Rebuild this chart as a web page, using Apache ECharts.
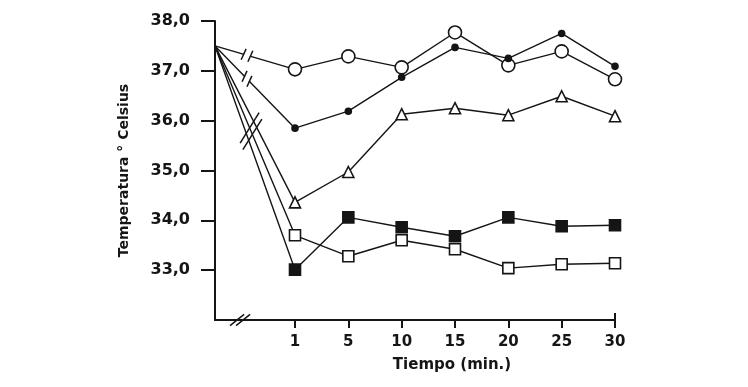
<!DOCTYPE html>
<html>
<head>
<meta charset="utf-8">
<script src="https://cdn.jsdelivr.net/npm/echarts@6/dist/echarts.min.js"></script>
<style>html,body{margin:0;padding:0;background:#fff;}#c{width:748px;height:387px;}</style>
</head>
<body>
<div id="c"></div>
<script>
// Time categories (min) shown as evenly spaced positions
const timeLabels = ['1', '5', '10', '15', '20', '25', '30'];
// Starting temperature (at the y-axis, before the break)
const startTemp = 37.5;
const startPos = -1.5;
// Series values (°C) at each time category
const openCircles   = [37.03, 37.29, 37.07, 37.77, 37.11, 37.39, 36.83];
const filledCircles = [35.85, 36.19, 36.87, 37.47, 37.25, 37.75, 37.09];
const triangles     = [34.36, 34.97, 36.13, 36.25, 36.11, 36.49, 36.09];
const filledSquares = [33.01, 34.06, 33.86, 33.68, 34.06, 33.88, 33.90];
const openSquares   = [33.70, 33.28, 33.60, 33.42, 33.04, 33.12, 33.14];
const yTicks = [33, 34, 35, 36, 37, 38];

const FONT = 'DejaVu Sans';
const INK = '#151515';

function mk(vals) {
  const d = [{ value: [startPos, startTemp], symbol: 'none' }];
  vals.forEach((v, i) => d.push([i, v]));
  return d;
}
function series(vals, symbol, size, fill) {
  return {
    type: 'line', data: mk(vals), symbol: symbol, symbolSize: size,
    showAllSymbol: true, animation: false, z: 3,
    lineStyle: { color: INK, width: 1.4 },
    itemStyle: { color: fill, borderColor: INK, borderWidth: 1.6 }
  };
}

const chart = echarts.init(document.getElementById('c'));
chart.setOption({
  backgroundColor: '#fff',
  animation: false,
  grid: { left: 215, right: 133, top: 21, bottom: 67 },
  xAxis: {
    type: 'value', min: startPos, max: timeLabels.length - 1,
    name: 'Tiempo (min.)', nameLocation: 'middle', nameGap: 38,
    nameTextStyle: { fontFamily: FONT, fontSize: 15, fontWeight: 'bold', color: INK, padding: [0, 0, 0, 74] },
    axisLine: { show: true, onZero: false, lineStyle: { color: INK, width: 2 } },
    axisTick: { show: true, length: 8, customValues: timeLabels.map((_, i) => i), lineStyle: { color: INK, width: 2 } },
    axisLabel: { customValues: timeLabels.map((_, i) => i), margin: 15, fontFamily: FONT, fontSize: 15, fontWeight: 'bold', color: INK,
      formatter: v => timeLabels[Math.round(v)] },
    splitLine: { show: false }
  },
  yAxis: {
    type: 'value', min: 32, max: 38, interval: 1,
    name: 'Temperatura ° Celsius', nameLocation: 'middle', nameGap: 84, nameRotate: 90,
    nameTextStyle: { fontFamily: FONT, fontSize: 14, fontWeight: 'bold', color: INK },
    axisLine: { show: true, onZero: false, lineStyle: { color: INK, width: 2 } },
    axisTick: { show: true, length: 14, customValues: yTicks, lineStyle: { color: INK, width: 2 } },
    axisLabel: { customValues: yTicks, margin: 25, fontFamily: FONT, fontSize: 16, fontWeight: 'bold', color: INK,
      formatter: v => v.toFixed(1).replace('.', ',') },
    splitLine: { show: false }
  },
  series: [
    series(openCircles, 'circle', 13, '#fff'),
    series(filledCircles, 'circle', 6, INK),
    series(triangles, 'triangle', 11, '#fff'),
    series(filledSquares, 'rect', 11, INK),
    series(openSquares, 'rect', 11, '#fff')
  ]
});

// Break marks, positioned from the chart's own scales
function px(x, y) { return chart.convertToPixel({ gridIndex: 0 }, [x, y]); }
const g = [];
function slashPair(cx, cy, dx, dy, half, gap) {
  for (const s of [-1, 1]) {
    const ox = s * gap[0], oy = s * gap[1];
    g.push({ type: 'line', shape: { x1: cx + ox - dx * half, y1: cy + oy - dy * half, x2: cx + ox + dx * half, y2: cy + oy + dy * half },
      style: { stroke: INK, lineWidth: 1.5 }, z: 10 });
  }
}
function lineBreak(vals, t, half) {
  const a = px(startPos, startTemp), b = px(0, vals[0]);
  const cx = a[0] + (b[0] - a[0]) * t, cy = a[1] + (b[1] - a[1]) * t;
  const len = Math.hypot(b[0] - a[0], b[1] - a[1]);
  const ux = (b[0] - a[0]) / len, uy = (b[1] - a[1]) / len;
  let dx = 0.45, dy = -1; const n = Math.hypot(dx, dy); dx /= n; dy /= n;
  g.push({ type: 'rect', shape: { x: cx - 3, y: cy - 3, width: 6, height: 6 }, style: { fill: '#fff' }, z: 8,
    rotation: -Math.atan2(uy, ux), originX: cx, originY: cy });
  slashPair(cx, cy, dx, dy, half, [ux * 3.5, uy * 3.5]);
}
lineBreak(openCircles, 0.4, 6);
lineBreak(filledCircles, 0.4, 6);
// one long break across the three steep lines
(function () {
  const a = px(startPos, startTemp), b = px(0, openSquares[0]);
  const t = 0.45;
  const cx = a[0] + (b[0] - a[0]) * t, cy = a[1] + (b[1] - a[1]) * t;
  const len = Math.hypot(b[0] - a[0], b[1] - a[1]);
  const ux = (b[0] - a[0]) / len, uy = (b[1] - a[1]) / len;
  let dx = 0.62, dy = -1; const n = Math.hypot(dx, dy); dx /= n; dy /= n;
  slashPair(cx, cy, dx, dy, 18, [ux * 3.5, uy * 3.5]);
})();
// x-axis break
(function () {
  const p = px(startPos + 0.47, 32);
  let dx = 1, dy = -0.8; const n = Math.hypot(dx, dy); dx /= n; dy /= n;
  slashPair(p[0], p[1], dx, dy, 9, [3, 0]);
})();
// small upward end hook at the right end of the x-axis
(function () {
  const p = px(timeLabels.length - 1, 32);
  g.push({ type: 'line', shape: { x1: p[0], y1: p[1], x2: p[0], y2: p[1] - 7 }, style: { stroke: INK, lineWidth: 2 }, z: 10 });
})();
chart.setOption({ graphic: g });
</script>
</body>
</html>
